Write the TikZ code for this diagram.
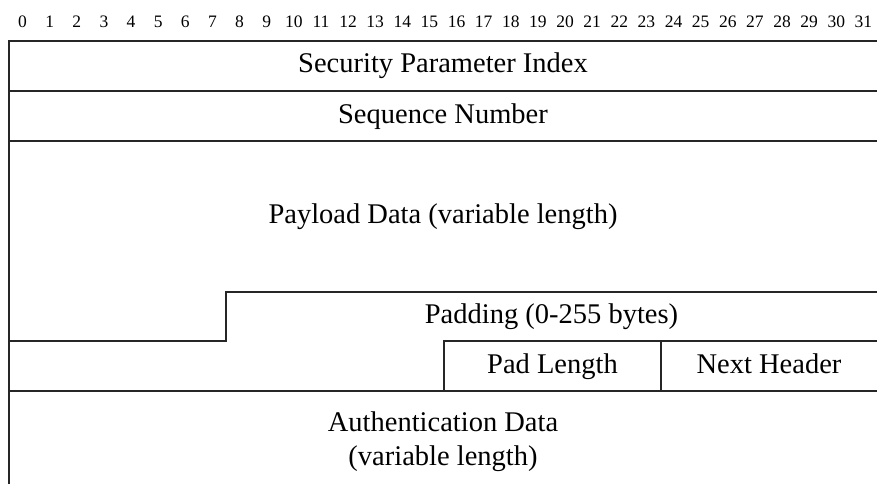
\documentclass[tikz,border=0pt]{standalone}
\usepackage{fontspec}
\setmainfont{Liberation Serif}
\begin{document}
\begin{tikzpicture}[x=1pt,y=-1pt,
  fieldline/.style={line width=1.3pt,draw=black!85},
  fieldtext/.style={anchor=base,inner sep=0pt,font=\fontsize{28.5}{34}\selectfont},
  bittext/.style={anchor=base,inner sep=0pt,font=\fontsize{17.5}{20}\selectfont}]
\useasboundingbox (0,0) rectangle (877,484);
% bit numbers
\foreach \i in {0,...,31}{
  \node[bittext] (bit\i) at ({9+27.125*\i+13.56},28) {\i};
}
% field outlines
\draw[fieldline] (9,484) -- (9,41) -- (877,41);
\draw[fieldline] (9,91) -- (877,91);
\draw[fieldline] (9,141) -- (877,141);
\draw[fieldline] (9,341) -- (226,341) -- (226,292) -- (877,292);
\draw[fieldline] (444,391) -- (444,341) -- (877,341);
\draw[fieldline] (661,341) -- (661,391);
\draw[fieldline] (9,391) -- (877,391);
% field labels
\node[fieldtext] (spi) at (443,73) {Security Parameter Index};
\node[fieldtext] (seq) at (443,123) {Sequence Number};
\node[fieldtext] (payload) at (443,223) {Payload Data (variable length)};
\node[fieldtext] (padding) at (551.5,323) {Padding (0-255 bytes)};
\node[fieldtext] (padlen) at (552.5,373) {Pad Length};
\node[fieldtext] (nexthdr) at (769,373) {Next Header};
\node[fieldtext] (auth1) at (443,431) {Authentication Data};
\node[fieldtext] (auth2) at (443,465) {(variable length)};
\end{tikzpicture}
\end{document}
